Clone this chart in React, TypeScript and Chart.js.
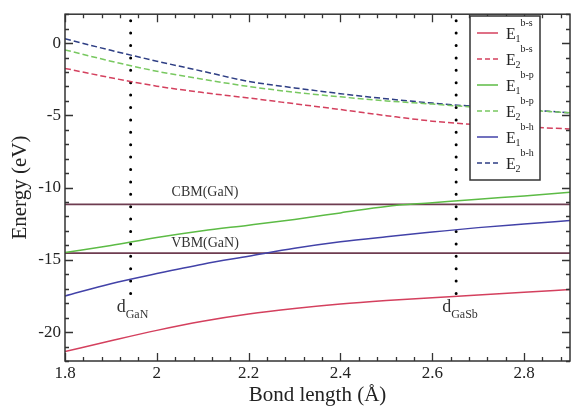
import React, { useEffect, useRef } from "react";
import { Chart, registerables } from "chart.js";

Chart.register(...registerables);

// ---------- data ----------
const bondLength = [1.8, 1.9, 2.0, 2.1, 2.2, 2.3, 2.4, 2.5, 2.6, 2.7, 2.8, 2.9];
const e1bs = [-21.35, -20.6, -19.88, -19.25, -18.75, -18.37, -18.06, -17.82, -17.62, -17.44, -17.25, -17.05];
const e2bs = [-1.75, -2.4, -2.98, -3.42, -3.8, -4.2, -4.6, -5.02, -5.4, -5.65, -5.8, -5.94];
const e1bp = [-14.5, -14.0, -13.45, -12.98, -12.6, -12.2, -11.75, -11.3, -11.05, -10.8, -10.58, -10.33];
const e2bp = [-0.47, -1.25, -1.95, -2.5, -3.0, -3.4, -3.72, -4.0, -4.22, -4.45, -4.63, -4.82];
const e1bh = [-17.5, -16.65, -15.95, -15.3, -14.75, -14.2, -13.75, -13.4, -13.08, -12.77, -12.52, -12.28];
const e2bh = [0.3, -0.5, -1.25, -1.95, -2.65, -3.1, -3.5, -3.85, -4.15, -4.4, -4.6, -4.82];

const cbmGaN = -11.16;
const vbmGaN = -14.53;
const dGaN = 1.943;
const dGaSb = 2.652;
const dLineTop = 1.55;
const dLineBottom = -17.6;

const xRange = [1.8, 2.9];
const yRange = [-22, 2];
const xTickValues = [1.8, 2.0, 2.2, 2.4, 2.6, 2.8];
const yTickValues = [-20, -15, -10, -5, 0];
const xMinorStep = 0.04;
const yMinorStep = 1;

const seriesSub = ["1", "2", "1", "2", "1", "2"];
const seriesSup = ["b-s", "b-s", "b-p", "b-p", "b-h", "b-h"];

// ---------- styles ----------
const RED = "#d4405e";
const GREEN = "#5cbb45";
const GREEN_D = "#78c860";
const BLUE = "#4242a8";
const BLUE_D = "#2e3e84";
const MAROON = "#6e3c50";
const SERIF = '"Liberation Serif", "Times New Roman", serif';

const seriesData = [e1bs, e2bs, e1bp, e2bp, e1bh, e2bh];
const seriesColor = [RED, RED, GREEN, GREEN_D, BLUE, BLUE_D];
const seriesDashed = [false, true, false, true, false, true];

const pts = (ys: number[]) => bondLength.map((x, i) => ({ x, y: ys[i] }));

const overlayPlugin = {
  id: "overlay",
  afterDatasetsDraw(chart: any) {
    const { ctx, chartArea: a, scales } = chart;
    const xs = scales.x;
    const ys = scales.y;
    ctx.save();
    ctx.strokeStyle = "#333";
    ctx.lineWidth = 1.3;
    const isMajor = (v: number, arr: number[]) => arr.some((m) => Math.abs(m - v) < 1e-6);
    ctx.beginPath();
    for (let k = 0; ; k++) {
      const v = xRange[0] + k * xMinorStep;
      if (v > xRange[1] + 1e-6) break;
      const px = Math.round(xs.getPixelForValue(v)) + 0.5;
      const len = isMajor(+v.toFixed(3), xTickValues) ? 8 : 4;
      ctx.moveTo(px, a.bottom);
      ctx.lineTo(px, a.bottom - len);
      ctx.moveTo(px, a.top);
      ctx.lineTo(px, a.top + len);
    }
    for (let k = 0; ; k++) {
      const v = yRange[0] + k * yMinorStep;
      if (v > yRange[1] + 1e-6) break;
      const py = Math.round(ys.getPixelForValue(v)) + 0.5;
      const len = isMajor(v, yTickValues) ? 8 : 4;
      ctx.moveTo(a.left, py);
      ctx.lineTo(a.left + len, py);
      ctx.moveTo(a.right, py);
      ctx.lineTo(a.right - len, py);
    }
    ctx.stroke();
    ctx.lineWidth = 1.5;
    ctx.strokeRect(a.left, a.top, a.right - a.left, a.bottom - a.top);

    // annotations
    ctx.fillStyle = "#333";
    ctx.textAlign = "center";
    ctx.textBaseline = "middle";
    ctx.font = `14px ${SERIF}`;
    ctx.fillText("CBM(GaN)", xs.getPixelForValue(2.105), ys.getPixelForValue(cbmGaN) - 12.5);
    ctx.fillText("VBM(GaN)", xs.getPixelForValue(2.105), ys.getPixelForValue(vbmGaN) - 9.5);

    const drawD = (xv: number, sub: string) => {
      const px = xs.getPixelForValue(xv) - 14;
      const base = ys.getPixelForValue(dLineBottom) + 15;
      ctx.textAlign = "left";
      ctx.textBaseline = "alphabetic";
      ctx.font = `18px ${SERIF}`;
      ctx.fillText("d", px, base);
      const w = ctx.measureText("d").width;
      ctx.font = `12px ${SERIF}`;
      ctx.fillText(sub, px + w, base + 6);
    };
    drawD(dGaN, "GaN");
    drawD(dGaSb, "GaSb");

    // legend
    const lx = 470, ly = 16, lw = 70, lh = 164;
    ctx.fillStyle = "#fff";
    ctx.fillRect(lx, ly, lw, lh);
    ctx.strokeStyle = "#333";
    ctx.lineWidth = 1.5;
    ctx.strokeRect(lx, ly, lw, lh);
    for (let i = 0; i < 6; i++) {
      const yy = 33 + i * 26;
      ctx.strokeStyle = seriesColor[i];
      ctx.lineWidth = 1.5;
      ctx.setLineDash(seriesDashed[i] ? [5, 3] : []);
      ctx.beginPath();
      ctx.moveTo(477, yy);
      ctx.lineTo(498, yy);
      ctx.stroke();
      ctx.setLineDash([]);
      ctx.fillStyle = "#222";
      ctx.textAlign = "left";
      ctx.textBaseline = "alphabetic";
      ctx.font = `16px ${SERIF}`;
      ctx.fillText("E", 506, yy + 6);
      ctx.font = `10px ${SERIF}`;
      ctx.fillText(seriesSub[i], 515.5, yy + 9);
      ctx.fillText(seriesSup[i], 520.5, yy - 7);
    }
    ctx.restore();
  },
};

export default function App() {
  const ref = useRef<HTMLCanvasElement | null>(null);
  useEffect(() => {
    if (!ref.current) return;
    const datasets: any[] = seriesData.map((ys, i) => ({
      data: pts(ys),
      borderColor: seriesColor[i],
      borderWidth: 1.5,
      borderDash: seriesDashed[i] ? [6, 3] : [],
      pointRadius: 0,
      cubicInterpolationMode: "monotone",
      fill: false,
    }));
    datasets.push(
      {
        data: [{ x: xRange[0], y: cbmGaN }, { x: xRange[1], y: cbmGaN }],
        borderColor: MAROON, borderWidth: 1.8, pointRadius: 0, fill: false,
      },
      {
        data: [{ x: xRange[0], y: vbmGaN }, { x: xRange[1], y: vbmGaN }],
        borderColor: MAROON, borderWidth: 1.8, pointRadius: 0, fill: false,
      },
      {
        data: [{ x: dGaN, y: dLineTop }, { x: dGaN, y: dLineBottom }],
        borderColor: "#000", borderWidth: 3, borderDash: [0, 12.4], borderCapStyle: "round",
        pointRadius: 0, fill: false,
      },
      {
        data: [{ x: dGaSb, y: dLineTop }, { x: dGaSb, y: dLineBottom }],
        borderColor: "#000", borderWidth: 3, borderDash: [0, 12.4], borderCapStyle: "round",
        pointRadius: 0, fill: false,
      }
    );
    const chart = new Chart(ref.current, {
      type: "line",
      data: { datasets },
      options: {
        animation: false,
        responsive: false,
        devicePixelRatio: 1,
        layout: { padding: { top: 5, right: 1, left: 0, bottom: 0 } },
        plugins: { legend: { display: false }, tooltip: { enabled: false } },
        scales: {
          x: {
            type: "linear",
            min: xRange[0],
            max: xRange[1],
            grid: { display: false, drawTicks: false },
            border: { display: false },
            afterBuildTicks: (s: any) => { s.ticks = xTickValues.map((v) => ({ value: v })); },
            afterFit: (s: any) => { s.height = 53; },
            ticks: {
              padding: 2,
              color: "#222",
              font: { family: SERIF, size: 17 },
              callback: (v: any) => String(Number(Number(v).toFixed(1))),
            },
            title: {
              display: true,
              text: "Bond length (Å)",
              color: "#222",
              font: { family: SERIF, size: 21 },
              padding: { top: 0, bottom: 6 },
            },
          },
          y: {
            type: "linear",
            min: yRange[0],
            max: yRange[1],
            grid: { display: false, drawTicks: false },
            border: { display: false },
            afterBuildTicks: (s: any) => { s.ticks = yTickValues.map((v) => ({ value: v })); },
            afterFit: (s: any) => { s.width = 65; },
            ticks: {
              padding: 4,
              color: "#222",
              font: { family: SERIF, size: 17 },
              callback: (v: any) => String(v),
            },
            title: {
              display: true,
              text: "Energy (eV)",
              color: "#222",
              font: { family: SERIF, size: 21 },
              padding: { top: 8, bottom: 0 },
            },
          },
        },
      },
      plugins: [overlayPlugin],
    });
    return () => chart.destroy();
  }, []);
  return (
    <div style={{ position: "absolute", left: 0, top: 0, width: 571, height: 414, background: "#fff" }}>
      <canvas ref={ref} width={571} height={414} style={{ display: "block" }} />
    </div>
  );
}
